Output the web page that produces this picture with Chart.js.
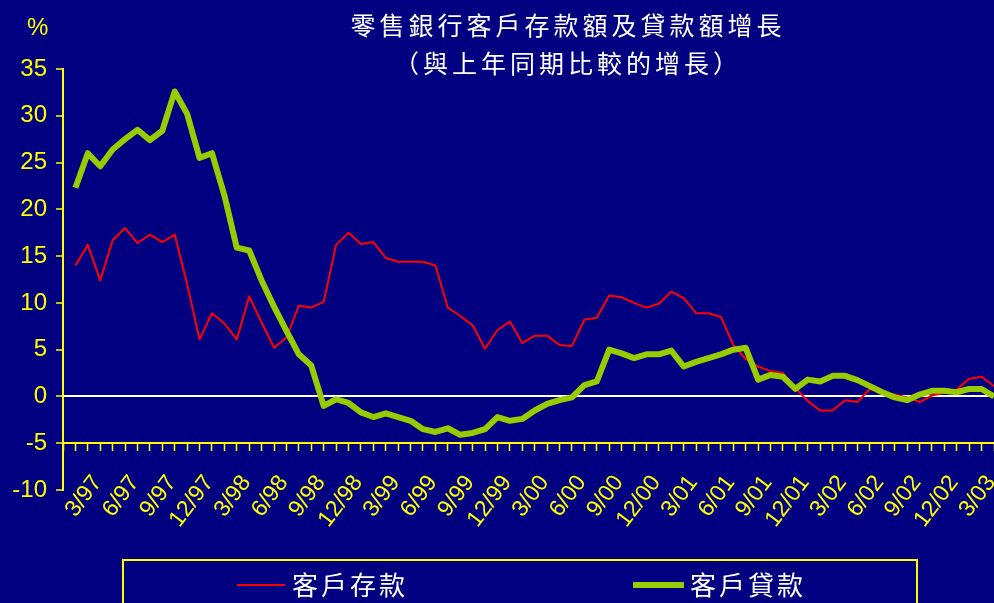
<!DOCTYPE html>
<html>
<head>
<meta charset="utf-8">
<script src="https://cdn.jsdelivr.net/npm/chart.js@4.4.1/dist/chart.umd.min.js"></script>
<style>
  html, body { margin: 0; padding: 0; background: #000080; overflow: hidden; }
  #wrap { position: relative; width: 994px; height: 603px; }
  #title { position: absolute; left: 266px; top: 5px; width: 600px; padding-left: 4px; box-sizing: border-box;
           text-align: center; color: #fff; font: 25px "Noto Sans CJK TC"; letter-spacing: 4px; line-height: 38px; }
  #unit { position: absolute; left: 27px; top: 13px; color: #ffff00; font: 24px "Liberation Sans", Arial, sans-serif; }
  #legend { position: absolute; left: 122px; top: 559px; width: 796px; height: 70px; box-sizing: border-box;
            border: 2px solid #ffff00; }
  .sw { position: absolute; }
  .lb { position: absolute; top: 6px; color: #fff; font: 26px "Noto Sans CJK TC"; letter-spacing: 3px; line-height: 34px; }
</style>
</head>
<body>
<div id="wrap">
  <canvas id="chart"></canvas>
  <div id="unit">%</div>
  <div id="title">零售銀行客戶存款額及貸款額增長<br>（與上年同期比較的增長）</div>
  <div id="legend"></div>
</div>
<script>
// monthly, 3/97 .. 5/03
const months = [];
for (let y = 97, m = 3; months.length < 75; ) {
  months.push(m + '/' + String(y % 100).padStart(2, '0'));
  if (++m > 12) { m = 1; y++; }
}

const seriesNames = ['客戶存款', '客戶貸款'];
const seriesColors = ['#ff0000', '#99cc00'];

const deposits = [
  14.0, 16.2, 12.4, 16.7, 18.0, 16.4, 17.3, 16.5, 17.3, 12.0, 6.1, 8.9,
  7.8, 6.1, 10.7, 7.9, 5.2, 6.3, 9.7, 9.5, 10.1, 16.2, 17.5, 16.3,
  16.5, 14.8, 14.4, 14.4, 14.4, 14.0, 9.5, 8.6, 7.6, 5.1, 7.1, 8.0,
  5.7, 6.5, 6.5, 5.5, 5.4, 8.2, 8.4, 10.8, 10.6, 10.0, 9.5, 9.9,
  11.2, 10.5, 8.9, 8.9, 8.5, 5.5, 4.0, 3.2, 2.7, 2.5, 0.9, -0.5,
  -1.5, -1.5, -0.4, -0.6, 0.8, 0.4, 0.2, -0.1, -0.6, 0.1, 0.4, 0.75,
  1.9, 2.1, 1.1
];
const loans = [
  22.3, 26.0, 24.6, 26.4, 27.5, 28.5, 27.4, 28.4, 32.6, 30.2, 25.5, 26.0,
  21.5, 15.9, 15.6, 12.4, 9.6, 7.0, 4.5, 3.3, -1.0, -0.3, -0.7, -1.7,
  -2.2, -1.8, -2.2, -2.6, -3.5, -3.8, -3.4, -4.1, -3.9, -3.5, -2.2, -2.6,
  -2.4, -1.5, -0.8, -0.4, -0.1, 1.2, 1.6, 5.0, 4.6, 4.1, 4.5, 4.5,
  4.9, 3.2, 3.7, 4.1, 4.5, 5.0, 5.2, 1.8, 2.3, 2.1, 0.8, 1.8,
  1.6, 2.2, 2.2, 1.75, 1.1, 0.45, -0.1, -0.4, 0.2, 0.6, 0.6, 0.45,
  0.8, 0.8, 0.0
];

const yMin = -10, yMax = 35, yStep = 5;
const yellow = '#ffff00';

// legend (html box)
const legend = document.getElementById('legend');
const legendPos = [{ sw: 113, w: 48, h: 2, tx: 168 }, { sw: 509, w: 51, h: 6, tx: 566 }];
seriesNames.forEach((name, i) => {
  const p = legendPos[i];
  const sw = document.createElement('div');
  sw.className = 'sw';
  sw.style.cssText = `left:${p.sw}px;top:${24 - p.h / 2}px;width:${p.w}px;height:${p.h}px;background:${seriesColors[i]}`;
  const lb = document.createElement('div');
  lb.className = 'lb';
  lb.style.left = p.tx + 'px';
  lb.textContent = name;
  legend.appendChild(sw);
  legend.appendChild(lb);
});

const canvas = document.getElementById('chart');
canvas.width = 994; canvas.height = 603;

new Chart(canvas, {
  type: 'line',
  data: {
    labels: [''].concat(months),
    datasets: [
      { label: seriesNames[0], data: [null].concat(deposits), borderColor: seriesColors[0], borderWidth: 2, order: 2 },
      { label: seriesNames[1], data: [null].concat(loans), borderColor: seriesColors[1], borderWidth: 6, order: 1 }
    ]
  },
  options: {
    responsive: false,
    animation: false,
    layout: { padding: { top: 69, bottom: 113, left: 0, right: 0 } },
    elements: { point: { radius: 0 }, line: { tension: 0, borderJoinStyle: 'round' } },
    plugins: { legend: { display: false }, tooltip: { enabled: false } },
    scales: {
      x: {
        position: { y: -5 },
        afterFit: s => { s.paddingLeft = 0; s.paddingRight = 0; },
        border: { color: yellow, width: 2 },
        grid: { drawOnChartArea: false, tickLength: 7, tickColor: yellow, tickWidth: 1.5 },
        ticks: {
          autoSkip: false, maxRotation: 53, minRotation: 53,
          color: yellow, font: { family: '"Liberation Sans", Arial', size: 23 },
          padding: 20, labelOffset: 22,
          callback: function (v) {
            const s = this.getLabelForValue(v);
            return parseInt(s, 10) % 3 === 0 ? s : '';
          }
        }
      },
      y: {
        min: yMin, max: yMax,
        afterFit: s => { s.width = 63; },
        border: { color: yellow, width: 2 },
        grid: {
          color: c => c.tick && c.tick.value === 0 ? '#ffffff' : 'rgba(0,0,0,0)',
          lineWidth: 2, tickLength: 7, tickColor: yellow, tickWidth: 1.5
        },
        ticks: { stepSize: yStep, color: yellow, padding: 9, font: { family: '"Liberation Sans", Arial', size: 24 } }
      }
    }
  }
});
</script>
</body>
</html>
